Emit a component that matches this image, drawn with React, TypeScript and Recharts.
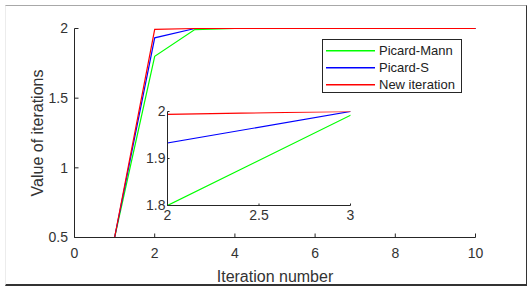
import React from 'react';
import { LineChart, Line, XAxis, YAxis, Legend, CartesianGrid } from 'recharts';

const iterations = [1, 2, 3, 4, 5, 6, 7, 8, 9, 10];
const picardMann = [0.5, 1.8, 1.992, 2, 2, 2, 2, 2, 2, 2];
const picardS = [0.5, 1.933, 2, 2, 2, 2, 2, 2, 2, 2];
const newIteration = [0.5, 1.994, 2, 2, 2, 2, 2, 2, 2, 2];

const xTicks = [0, 2, 4, 6, 8, 10];
const yTicks = [0.5, 1, 1.5, 2];
const insetXTicks = [2, 2.5, 3];
const insetYTicks = [1.8, 1.9, 2];

const seriesDefs = [
  { key: 'pm', name: 'Picard-Mann', color: '#00ff00', values: picardMann },
  { key: 'ps', name: 'Picard-S', color: '#0000ff', values: picardS },
  { key: 'ni', name: 'New iteration', color: '#ff0000', values: newIteration },
];

const data = iterations.map((it, i) => {
  const row: Record<string, number> = { it };
  seriesDefs.forEach((s) => {
    row[s.key] = s.values[i];
  });
  return row;
});

const FONT = '"Liberation Sans", Arial, Helvetica, sans-serif';
const AXIS = '#262626';
const TEXT = '#333333';
const tickStyle = { fontSize: 14, fill: TEXT, fontFamily: FONT };
const empty = () => '';

const LegendBox = () => {
  return (
    <div
      style={{
        boxSizing: 'border-box',
        width: 140,
        height: 54,
        border: `1px solid ${AXIS}`,
        background: '#fff',
        paddingTop: 2,
        fontFamily: FONT,
        fontSize: 13,
        color: '#222',
      }}
    >
      {seriesDefs.map((s) => (
        <div key={s.key} style={{ height: 17, display: 'flex', alignItems: 'center' }}>
          <svg width={52} height={17} style={{ display: 'block' }}>
            <rect x={3} y={8} width={49} height={1.5} fill={s.color} />
          </svg>
          <span style={{ marginLeft: 4, whiteSpace: 'nowrap' }}>{s.name}</span>
        </div>
      ))}
    </div>
  );
};

export default function App() {
  return (
    <div style={{ position: 'absolute', left: 0, top: 0, width: 531, height: 290, background: '#fff' }}>
      <div
        style={{
          position: 'absolute',
          left: 5,
          top: 5,
          width: 520,
          height: 278,
          borderTop: '1px solid #a8a8a8',
          borderLeft: '1px solid #ececec',
          borderRight: '1px solid #333',
          borderBottom: '2px solid #333',
        }}
      />
      <div style={{ position: 'absolute', left: 0, top: 0 }}>
        <LineChart
          width={531}
          height={290}
          data={data}
          margin={{ top: 28.5, right: 55.5, left: 0, bottom: 0 }}
        >
          <XAxis
            dataKey="it"
            type="number"
            domain={[0, 10]}
            ticks={xTicks}
            height={52.5}
            tickSize={-4}
            tickMargin={15}
            stroke={AXIS}
            tick={tickStyle}
            label={{ value: 'Iteration number', position: 'insideBottom', offset: 8, style: { fontSize: 16, fill: TEXT, fontFamily: FONT } }}
          />
          <XAxis
            xAxisId="top"
            orientation="top"
            type="number"
            domain={[0, 10]}
            ticks={xTicks}
            height={0}
            tickSize={-4}
            stroke={AXIS}
            tickFormatter={empty}
          />
          <YAxis
            type="number"
            domain={[0.5, 2]}
            ticks={yTicks}
            width={74.5}
            tickSize={-4}
            tickMargin={10.5}
            stroke={AXIS}
            tick={tickStyle}
            label={{
              value: 'Value of iterations',
              angle: -90,
              position: 'insideLeft',
              offset: 37,
              style: { textAnchor: 'middle', fontSize: 16, fill: TEXT, fontFamily: FONT },
            }}
          />
          <YAxis
            yAxisId="right"
            orientation="right"
            type="number"
            domain={[0.5, 2]}
            ticks={yTicks}
            width={0}
            tickSize={-4}
            stroke={AXIS}
            tickFormatter={empty}
          />
          {seriesDefs.map((s) => (
            <Line
              key={s.key}
              dataKey={s.key}
              name={s.name}
              stroke={s.color}
              strokeWidth={1.2}
              dot={false}
              activeDot={false}
              isAnimationActive={false}
            />
          ))}
          <Legend
            layout="vertical"
            align="center"
            verticalAlign="middle"
            content={LegendBox}
            wrapperStyle={{ left: 322, top: 39, width: 140, height: 54 }}
          />
        </LineChart>
      </div>
      <div style={{ position: 'absolute', left: 0, top: 0 }}>
        <LineChart
          width={531}
          height={290}
          data={data}
          margin={{ top: 111.5, right: 180.5, left: 127, bottom: 64.5 }}
        >
          <CartesianGrid horizontal={false} vertical={false} fill="#fff" />
          <XAxis
            dataKey="it"
            type="number"
            domain={[2, 3]}
            allowDataOverflow
            ticks={insetXTicks}
            height={20}
            tickSize={-2}
            tickMargin={7}
            stroke={AXIS}
            tick={tickStyle}
          />
          <XAxis
            xAxisId="top"
            orientation="top"
            type="number"
            domain={[2, 3]}
            allowDataOverflow
            ticks={insetXTicks}
            height={0}
            tickSize={-2}
            stroke={AXIS}
            tickFormatter={empty}
          />
          <YAxis
            type="number"
            domain={[1.8, 2]}
            allowDataOverflow
            ticks={insetYTicks}
            width={40.5}
            tickSize={-2}
            tickMargin={4}
            stroke={AXIS}
            tick={tickStyle}
          />
          <YAxis
            yAxisId="right"
            orientation="right"
            type="number"
            domain={[1.8, 2]}
            allowDataOverflow
            ticks={insetYTicks}
            width={0}
            tickSize={-2}
            stroke={AXIS}
            tickFormatter={empty}
          />
          {seriesDefs.map((s) => (
            <Line
              key={s.key}
              dataKey={s.key}
              name={s.name}
              stroke={s.color}
              strokeWidth={1.2}
              dot={false}
              activeDot={false}
              isAnimationActive={false}
            />
          ))}
        </LineChart>
      </div>
    </div>
  );
}
